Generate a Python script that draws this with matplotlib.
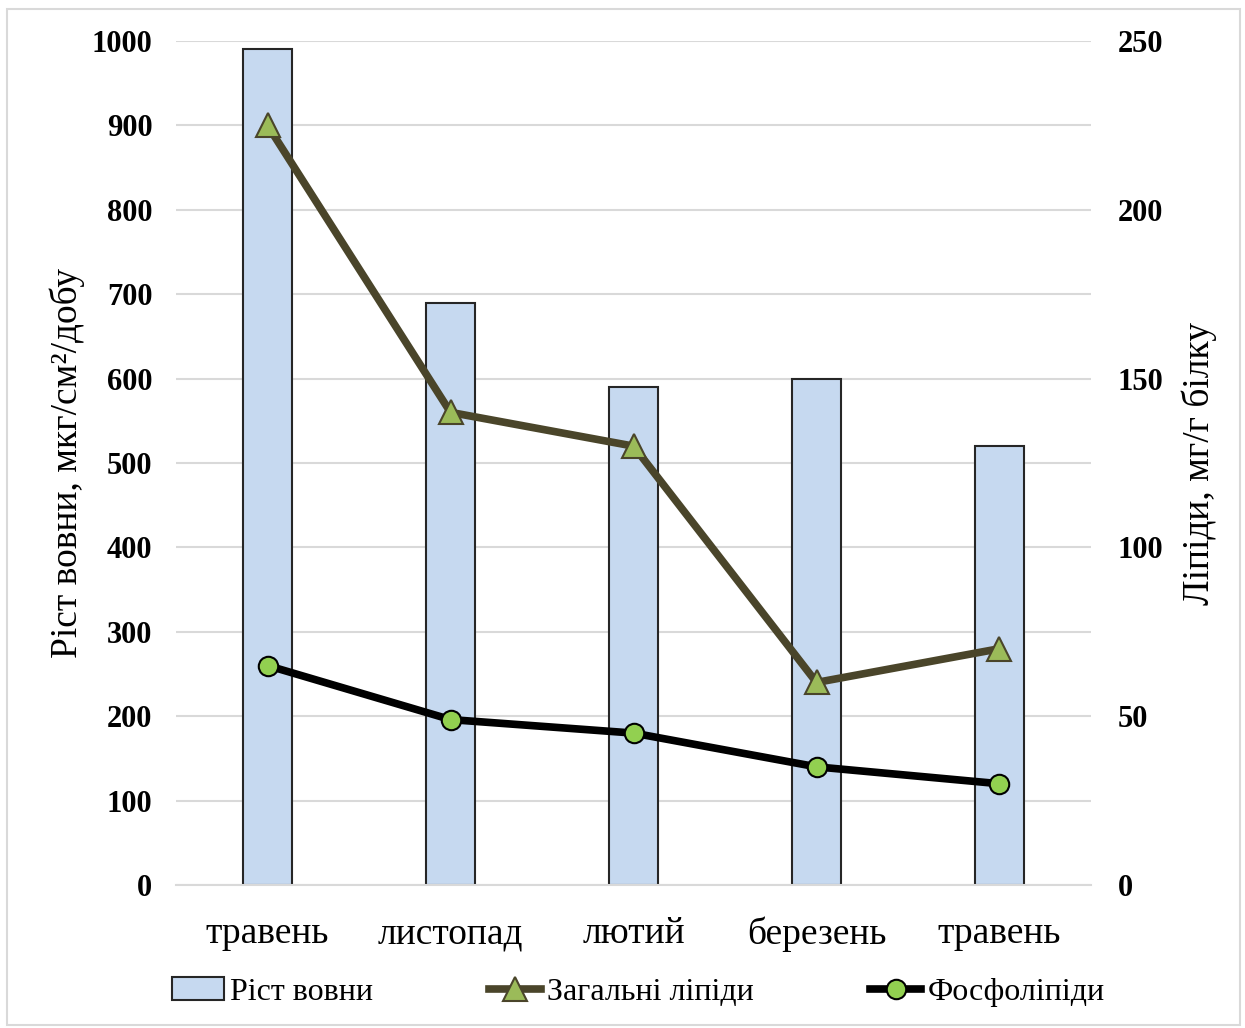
import matplotlib.pyplot as plt
from matplotlib.lines import Line2D
from matplotlib.patches import Patch, Rectangle

# ---- дані ----
months = ["травень", "листопад", "лютий", "березень", "травень"]
wool_growth = [990, 690, 590, 600, 520]        # мкг/см2/добу
total_lipids = [225, 140, 130, 60, 70]         # мг/г білку
phospholipids = [65, 49, 45, 35, 30]           # мг/г білку

plt.rcParams['font.family'] = ['Liberation Serif', 'DejaVu Serif']

fig = plt.figure(figsize=(12.45, 10.28), dpi=100)
ax = fig.add_axes([0.1414, 0.1391, 0.7349, 0.821])
ax2 = ax.twinx()

x = list(range(len(months)))
ax.bar(x, wool_growth, width=0.27, color="#C6D9F0", edgecolor="#262626",
       linewidth=1.5, zorder=2)

ax2.plot(x, total_lipids, color="#4A452A", lw=5.5, marker="^", ms=17,
         mfc="#9BBB59", mec="#4A452A", mew=1.5, zorder=3)
ax2.plot(x, phospholipids, color="black", lw=5.5, marker="o", ms=14,
         mfc="#92D050", mec="black", mew=1.5, zorder=3)

ax.set_xlim(-0.5, 4.5)
ax.set_ylim(0, 1000)
ax2.set_ylim(0, 250)
ax.set_yticks(range(0, 1001, 100))
ax2.set_yticks(range(0, 251, 50))
ax.set_xticks(x)
ax.set_xticklabels(months, fontsize=27)

ax.grid(axis="y", color="#D9D9D9", lw=1.5, zorder=0)
ax.set_axisbelow(True)
for a in (ax, ax2):
    for s in a.spines.values():
        s.set_visible(False)
ax.spines["bottom"].set_visible(True)
ax.spines["bottom"].set_color("#D9D9D9")
ax.spines["bottom"].set_linewidth(1.5)

ax.tick_params(axis="y", length=0, pad=17, labelsize=22)
ax2.tick_params(axis="y", length=0, pad=19, labelsize=22)
ax.tick_params(axis="x", length=0, pad=23)
for lab in ax.get_yticklabels() + ax2.get_yticklabels():
    lab.set_fontweight("bold")

ax.set_ylabel("Ріст вовни, мкг/см²/добу", fontsize=27, labelpad=5)
ax2.set_ylabel("Ліпіди, мг/г білку", fontsize=27, labelpad=13)

handles = [
    Patch(facecolor="#C6D9F0", edgecolor="#262626", linewidth=1.5),
    Line2D([], [], color="#4A452A", lw=5.5, marker="^", ms=17,
           mfc="#9BBB59", mec="#4A452A", mew=1.5),
    Line2D([], [], color="black", lw=5.5, marker="o", ms=14,
           mfc="#92D050", mec="black", mew=1.5),
]
fig.legend(handles, ["Ріст вовни", "Загальні ліпіди", "Фосфоліпіди"],
           loc="center", bbox_to_anchor=(0.513, 0.035), ncol=3, frameon=False,
           fontsize=23, handlelength=1.6, handletextpad=0.2, columnspacing=3.65)

fig.patches.append(Rectangle((0.006, 0.003), 0.99, 0.988, transform=fig.transFigure,
                             fill=False, edgecolor="#D9D9D9", lw=1.5))

fig.savefig("out.png", dpi=100)
